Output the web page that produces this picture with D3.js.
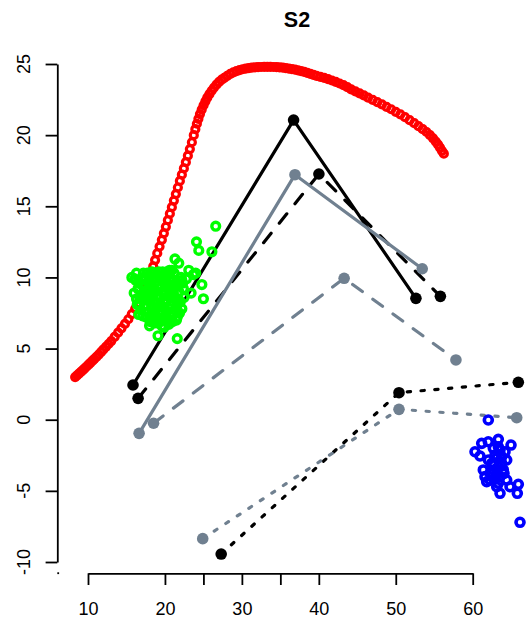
<!DOCTYPE html>
<html>
<head>
<meta charset="utf-8">
<script src="https://cdn.jsdelivr.net/npm/d3@7"></script>
<style>
  html, body { margin: 0; padding: 0; background: #fff; }
  svg text { font-family: "Liberation Sans", Arial, Helvetica, sans-serif; fill: #000; }
</style>
</head>
<body>
<svg id="chart" width="528" height="627"></svg>
<script>
// ---- data ----
const title = "S2";

// trajectory (red open circles)
const redPts = [
  [8.33,3.0],[8.58,3.12],[8.83,3.24],[9.08,3.36],[9.33,3.48],[9.57,3.61],[9.82,3.74],[10.07,3.87],
  [10.31,4.0],[10.56,4.13],[10.8,4.26],[11.1,4.42],[11.39,4.58],[11.69,4.75],[11.98,4.92],[12.33,5.12],
  [12.67,5.32],[13.02,5.53],[13.46,5.82],[13.91,6.12],[14.35,6.42],[14.8,6.73],[15.24,7.06],
  [15.69,7.42],[16.13,7.8],[16.53,8.2],[16.93,8.62],[17.28,9.04],[17.63,9.46],[17.93,9.88],[18.23,10.32],
  [18.48,10.77],[18.72,11.22],
  [19.0,11.7],[19.3,12.17],[19.6,12.64],[19.86,13.1],[20.12,13.56],[20.38,14.02],[20.64,14.48],[20.9,14.94],
  [21.16,15.4],[21.42,15.86],[21.68,16.32],[21.94,16.78],[22.2,17.22],[22.46,17.66],[22.72,18.1],[22.98,18.56],
  [23.24,19.02],[23.5,19.5],[23.75,20.0],
  [23.95,20.42],[24.15,20.8],[24.35,21.15],[24.55,21.48],[24.78,21.8],[25.02,22.1],[25.26,22.38],[25.5,22.63],
  [25.78,22.88],[26.07,23.12],[26.36,23.33],[26.7,23.55],[27.04,23.74],[27.38,23.9],[27.72,24.03],[28.1,24.17],
  [28.5,24.3],[28.9,24.41],[29.3,24.5],[29.7,24.57],[30.1,24.63],[30.5,24.67],[30.9,24.71],[31.3,24.74],
  [31.7,24.76],[32.1,24.78],[32.5,24.79],[32.9,24.8],[33.3,24.8],[33.7,24.8],[34.1,24.79],[34.5,24.78],
  [34.9,24.76],[35.3,24.74],[35.7,24.71],[36.1,24.68],[36.5,24.64],[36.9,24.6],[37.3,24.55],[37.7,24.5],
  [38.1,24.44],[38.5,24.38],[38.9,24.31],[39.3,24.24],[39.7,24.17],
  [40.2,24.1],[40.7,24.02],[41.2,23.93],[41.7,23.84],[42.2,23.74],[42.7,23.63],[43.2,23.52],[43.7,23.37],
  [44.2,23.22],[44.75,23.08],[45.3,22.93],[45.85,22.79],[46.4,22.64],[47.0,22.48],[47.6,22.32],[48.2,22.16],
  [48.8,21.99],[49.4,21.82],[50.0,21.64],[50.6,21.46],[51.2,21.26],[51.8,21.05],[52.4,20.84],[52.95,20.63],
  [53.5,20.42],[54.0,20.22],[54.45,20.0],[54.85,19.78],[55.2,19.55],[55.5,19.33],[55.75,19.12],[56.0,18.9],
  [56.25,18.7]
];

// cluster A (green open circles)
const greenPts = [
  [19.2,8.6],[19.8,8.9],[18.7,8.3],[20.3,8.4],[19.5,9.3],[18.9,9.0],[20.1,9.6],[18.4,8.8],[19.0,7.9],[20.6,9.0],
  [17.9,8.5],[21.0,8.6],[19.6,7.6],[18.2,9.5],[20.8,8.1],[17.6,9.1],[19.3,10.0],[21.3,9.3],[18.5,7.4],[20.2,7.3],
  [17.3,8.0],[21.5,8.0],[18.0,10.1],[20.7,10.0],[19.9,8.2],[18.8,9.7],[17.0,9.5],[21.8,9.0],[19.1,7.1],[20.4,6.9],
  [16.8,8.6],[22.0,8.3],[17.8,7.6],[20.9,7.5],[18.6,10.3],[19.7,10.4],[16.5,9.2],[22.3,9.6],[17.4,10.0],[21.2,10.3],
  [18.1,6.9],[19.6,6.6],[20.5,6.7],[16.4,8.1],[22.5,8.6],[17.1,7.3],[21.6,7.2],[16.2,9.8],[22.1,10.0],[18.3,7.8],
  [19.4,8.1],[20.0,9.1],[18.9,8.7],[19.7,9.8],[18.1,8.3],[20.5,8.7],[19.0,9.4],[19.8,7.9],[18.5,9.2],[20.3,9.4],
  [17.7,8.8],[21.1,8.9],[19.3,7.5],[18.7,10.0],[20.0,10.1],[17.5,8.4],[21.4,8.4],[19.1,6.8],[16.9,7.7],[22.2,7.8],
  [16.0,8.9],[16.1,9.9],[22.4,9.2],[17.2,10.3],[20.6,10.5],[18.0,6.6],[19.9,6.5],[21.0,6.9],[16.6,7.4],[21.9,7.5],
  [17.2,8.9],[17.9,9.8],[18.4,7.1],[19.0,10.2],[20.4,10.2],[21.0,9.7],[21.6,9.6],[21.7,8.5],[20.9,7.0],[19.4,6.9],
  [18.6,6.8],[17.6,7.2],[16.7,8.1],[16.6,9.6],[17.4,9.5],[18.3,10.4],[19.6,10.0],[20.8,9.4],[21.3,7.7],[20.0,7.0],
  [18.0,7.3],[17.2,8.5],[18.8,7.7],[19.7,7.2],[20.6,7.8],[21.8,8.2],[17.7,10.3],[19.2,10.4],[20.3,10.4],[16.3,8.5],
  [15.7,10.0],[20.9,10.5],[21.3,11.3],[21.8,11.0],[22.2,9.8],[23.7,10.2],[23.4,8.9],[24.8,9.5],[25.0,8.5],[24.1,12.5],
  [24.4,11.9],[26.1,11.8],[26.6,13.6],[24.0,10.3],[21.5,7.0],[19.1,5.9],[21.6,5.7],[22.8,9.9],[23.1,10.5],[16.3,10.3]
];

// cluster B (blue open circles)
const bluePts = [
  [62.03,-0.02],[61.17,-1.66],[60.3,-2.25],[60.95,-2.55],[62.03,-1.55],[63.33,-1.38],[64.98,-1.78],[64.2,-2.25],
  [64.42,-2.83],[62.9,-2.48],[62.47,-3.07],[61.38,-3.53],[61.6,-4.0],[61.82,-4.36],[63.33,-3.3],[63.55,-4.0],
  [64.42,-4.24],[63.33,-4.47],[64.85,-4.71],[65.93,-4.54],[63.55,-5.17],[65.8,-5.17],[66.15,-7.21],
  [62.68,-2.01],[63.12,-2.71],[63.77,-2.6],[62.68,-3.53],[63.12,-3.77],[63.98,-3.53],[62.25,-3.77],[62.9,-4.12],
  [63.77,-3.06],[64.07,-3.77],[62.68,-3.06],[63.33,-1.9],[62.03,-2.83],[63.55,-2.13],[63.12,-4.71],[62.25,-4.24]
];

// three-point paths
const blackSolid  = [[15.85,2.44],[36.72,21.06],[52.62,8.53]];
const blackDashed = [[16.51,1.50],[40.01,17.27],[55.80,8.67]];
const greySolid   = [[16.64,-0.96],[36.90,17.22],[53.44,10.61]];
const greyDashed  = [[18.52,-0.25],[43.29,9.94],[57.82,4.20]];
const blackDotted = [[27.31,-9.44],[50.42,1.90],[65.93,2.63]];
const greyDotted  = [[24.91,-8.36],[50.42,0.73],[65.72,0.14]];

const xTicks = [10, 20, 25, 30, 35, 40, 50, 60];
const xLabels = [10, 20, 30, 40, 50, 60];
const yTicks = [-10, -5, 0, 5, 10, 15, 20, 25];

// ---- drawing ----
const svg = d3.select("#chart");
const x = d3.scaleLinear().domain([10, 60]).range([88, 472.7]);
const y = d3.scaleLinear().domain([-10, 25]).range([562, 64]);

const plotLeft = 57.3, plotBottom = 573.3;
const GREY = "#708090";

// title
svg.append("text")
  .attr("x", 297).attr("y", 26.7)
  .attr("text-anchor", "middle")
  .attr("font-size", 21.5).attr("font-weight", "bold")
  .text(title);

// x axis
const xAxis = d3.axisBottom(x)
  .tickValues(xTicks)
  .tickSizeInner(11.7).tickSizeOuter(0)
  .tickFormat(d => xLabels.includes(d) ? String(d) : "");
const gx = svg.append("g").attr("transform", `translate(0,${plotBottom})`).call(xAxis);
gx.select(".domain").attr("stroke-width", 1.8).attr("stroke", "#000");
gx.selectAll(".tick line").attr("stroke-width", 1.8).attr("stroke", "#000");
gx.selectAll(".tick text")
  .attr("y", 41.7).attr("dy", 0)
  .attr("font-size", 18).attr("fill", "#000")
  .style("font-family", '"Liberation Sans", Arial, Helvetica, sans-serif');

// y axis
const yAxis = d3.axisLeft(y)
  .tickValues(yTicks)
  .tickSizeInner(11.7).tickSizeOuter(0)
  .tickFormat("");
const gy = svg.append("g").attr("transform", `translate(${plotLeft},0)`).call(yAxis);
gy.select(".domain").attr("stroke-width", 1.8).attr("stroke", "#000");
gy.selectAll(".tick line").attr("stroke-width", 1.8).attr("stroke", "#000");
svg.append("g").selectAll("text").data(yTicks).join("text")
  .attr("transform", d => `translate(30.3,${y(d)}) rotate(-90)`)
  .attr("text-anchor", "middle")
  .attr("font-size", 18)
  .text(d => String(d));

// corner mark of the plot frame
svg.append("rect")
  .attr("x", plotLeft).attr("y", plotBottom - 1)
  .attr("width", 1.8).attr("height", 1.8).attr("fill", "#000");

// paths with end/turn markers
const line = d3.line().x(d => x(d[0])).y(d => y(d[1]));
const paths = [
  { pts: blackSolid,  color: "#000", dash: null },
  { pts: blackDashed, color: "#000", dash: "12,13" },
  { pts: greySolid,   color: GREY,   dash: null },
  { pts: greyDashed,  color: GREY,   dash: "12,13" },
  { pts: blackDotted, color: "#000", dash: "3.3,10.5" },
  { pts: greyDotted,  color: GREY,   dash: "3.3,10.5" }
];
const gLines = svg.append("g");
paths.forEach(p => {
  gLines.append("path")
    .attr("d", line(p.pts))
    .attr("fill", "none")
    .attr("stroke", p.color)
    .attr("stroke-width", 3.2)
    .attr("stroke-linecap", "round")
    .attr("stroke-linejoin", "round")
    .attr("stroke-dasharray", p.dash);
  gLines.append("g").selectAll("circle").data(p.pts).join("circle")
    .attr("cx", d => x(d[0])).attr("cy", d => y(d[1]))
    .attr("r", 5.8).attr("fill", p.color);
});

// open-circle point clouds
function ring(data, color, r, sw) {
  svg.append("g").selectAll("circle").data(data).join("circle")
    .attr("cx", d => x(d[0])).attr("cy", d => y(d[1]))
    .attr("r", r)
    .attr("fill", "none")
    .attr("stroke", color)
    .attr("stroke-width", sw);
}
ring(redPts, "#ff0000", 3.5, 3.2);
ring(greenPts, "#00ff00", 3.9, 3.4);
ring(bluePts, "#0000ff", 4.0, 3.6);
</script>
</body>
</html>
